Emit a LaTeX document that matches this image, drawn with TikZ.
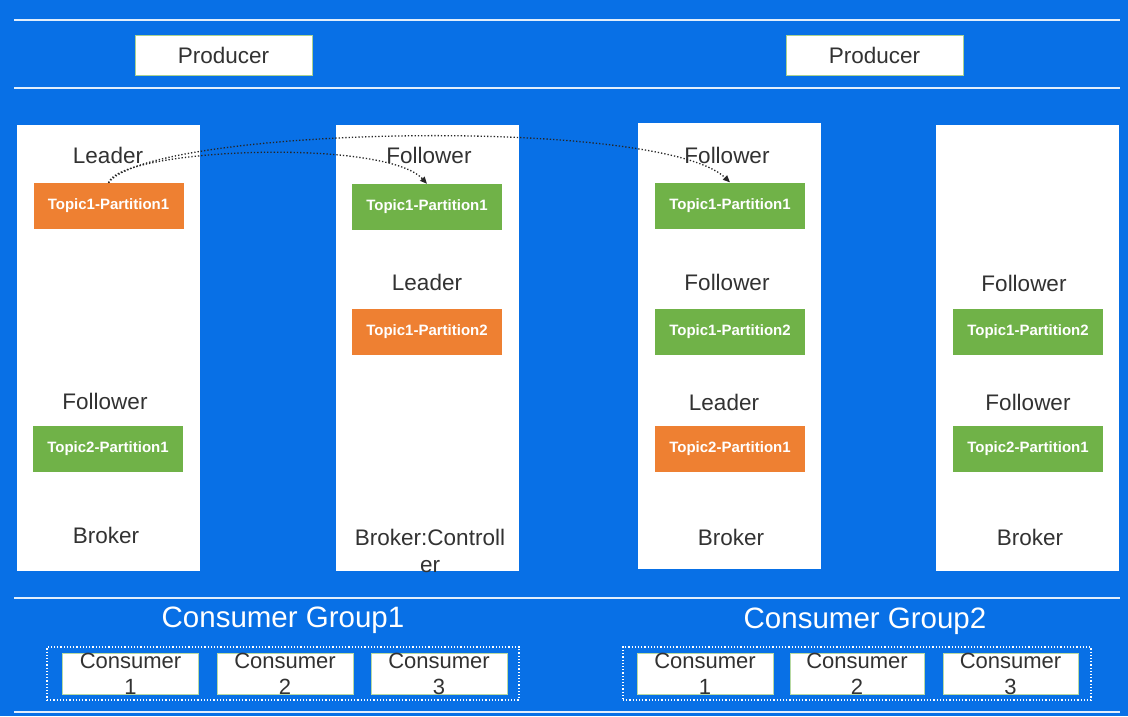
\documentclass[tikz,border=0pt]{standalone}
\usepackage{fontspec}
\setmainfont{Liberation Sans}
\usetikzlibrary{arrows.meta}
\definecolor{bg}{RGB}{8,112,230}
\definecolor{org}{RGB}{238,128,50}
\definecolor{grn}{RGB}{112,178,72}
\definecolor{txt}{RGB}{50,50,50}
\definecolor{sep}{RGB}{225,238,252}
\tikzset{
  sepline/.style={draw=sep, line width=2.5pt},
  prodbox/.style={draw=grn!60!white, fill=white, line width=0.8pt, minimum width=177pt, minimum height=40pt, font=\fontsize{22.5}{26}\selectfont, text=txt, inner sep=0pt},
  brokerbox/.style={draw=white, fill=white, minimum width=182pt, minimum height=445pt, inner sep=0pt},
  part/.style={minimum width=150pt, minimum height=46pt, inner sep=0pt, text=white, font=\fontsize{15}{17}\bfseries\selectfont},
  orgpart/.style={part, fill=org},
  grnpart/.style={part, fill=grn},
  role/.style={text=txt, font=\fontsize{22.5}{26}\selectfont, inner sep=0pt},
  grouplabel/.style={text=white, font=\fontsize{29.5}{32}\selectfont, inner sep=0pt},
  conbox/.style={draw=grn!50!white, fill=white, line width=0.8pt, minimum width=136pt, minimum height=41pt, inner sep=0pt},
  context/.style={text=txt, align=center, font=\fontsize{22}{26}\selectfont, inner sep=0pt},
  groupbox/.style={draw=white, dotted, line width=1.2pt},
  repl/.style={draw=black!85, dotted, line width=1.3pt, -{Triangle[length=7pt,width=6pt]}}
}
\begin{document}
\begin{tikzpicture}[x=1pt,y=-1pt]
\fill[bg] (0,0) rectangle (1128,716);
\useasboundingbox (0,0) rectangle (1128,716);
% separator lines
\coordinate (l1a) at (14,20);  \coordinate (l1b) at (1120,20);
\coordinate (l2a) at (14,88);  \coordinate (l2b) at (1120,88);
\coordinate (l3a) at (14,598); \coordinate (l3b) at (1120,598);
\coordinate (l4a) at (14,712); \coordinate (l4b) at (1120,712);
\draw[sepline] (l1a) -- (l1b);
\draw[sepline] (l2a) -- (l2b);
\draw[sepline] (l3a) -- (l3b);
\draw[sepline] (l4a) -- (l4b);
% producers
\node[prodbox] (p1) at (223.5,55) {Producer};
\node[prodbox] (p2) at (874.5,55) {Producer};
% brokers
\node[brokerbox] (b1) at (108,347.5) {};
\node[brokerbox] (b2) at (427,347.5) {};
\node[brokerbox] (b3) at (729,346) {};
\node[brokerbox] (b4) at (1027,347.5) {};
% column 1
\node[role] (r11) at (108,155) {Leader};
\node[orgpart] (t11) at (108.5,206) {Topic1-Partition1};
\node[role] (r12) at (105,401) {Follower};
\node[grnpart] (t12) at (108,448.5) {Topic2-Partition1};
\node[role] (n1) at (106,535) {Broker};
% column 2
\node[role] (r21) at (429,155) {Follower};
\node[grnpart] (t21) at (427,207) {Topic1-Partition1};
\node[role] (r22) at (427,282) {Leader};
\node[orgpart] (t22) at (427,331.5) {Topic1-Partition2};
\node[role, align=center, font=\fontsize{22.5}{27}\selectfont] (n2) at (430,551) {Broker:Controll\\er};
% column 3
\node[role] (r31) at (727,155) {Follower};
\node[grnpart] (t31) at (730,205.5) {Topic1-Partition1};
\node[role] (r32) at (727,282) {Follower};
\node[grnpart] (t32) at (730,331.5) {Topic1-Partition2};
\node[role] (r33) at (724,402) {Leader};
\node[orgpart] (t33) at (730,448.5) {Topic2-Partition1};
\node[role] (n3) at (731,537) {Broker};
% column 4
\node[role] (r41) at (1024,283) {Follower};
\node[grnpart] (t41) at (1028,331.5) {Topic1-Partition2};
\node[role] (r42) at (1028,402) {Follower};
\node[grnpart] (t42) at (1028,448.5) {Topic2-Partition1};
\node[role] (n4) at (1030,537) {Broker};
% replication arrows
\draw[repl] (t11.north) .. controls (120,148) and (385,138) .. (t21.north);
\draw[repl] (t11.north) .. controls (150,126) and (660,116) .. (t31.north);
% consumer groups
\node[grouplabel] (g1) at (283,620) {Consumer Group1};
\node[grouplabel] (g2) at (865,621) {Consumer Group2};
\node[groupbox, minimum width=472pt, minimum height=53pt, inner sep=0pt] (gb1) at (283,673.5) {};
\node[groupbox, minimum width=468pt, minimum height=53pt, inner sep=0pt] (gb2) at (857,673.5) {};
\node[conbox] (c11) at (130.5,673.5) {};
\node[conbox] (c12) at (285,673.5) {};
\node[conbox] (c13) at (439,673.5) {};
\node[conbox, minimum width=136pt] (c21) at (705,673.5) {};
\node[conbox, minimum width=134pt] (c22) at (857,673.5) {};
\node[conbox, minimum width=135pt] (c23) at (1010.5,673.5) {};
\node[context] at (c11) {Consumer\\1};
\node[context] at (c12) {Consumer\\2};
\node[context] at (c13) {Consumer\\3};
\node[context] at (c21) {Consumer\\1};
\node[context] at (c22) {Consumer\\2};
\node[context] at (c23) {Consumer\\3};
\end{tikzpicture}
\end{document}
